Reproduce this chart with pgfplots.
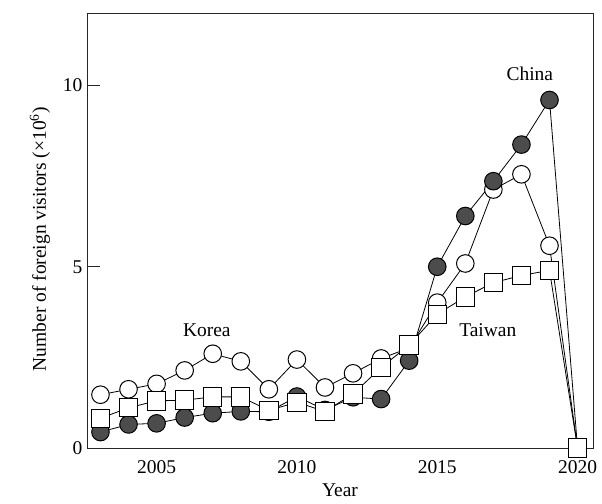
\documentclass[border=0pt]{standalone}
\usepackage{fontspec}
\setmainfont{Liberation Serif}
\usepackage{pgfplots}
\pgfplotsset{compat=1.18}
\usetikzlibrary{calc}
\begin{document}
\begin{tikzpicture}
\begin{axis}[
  scale only axis,
  width=379.5pt, height=326.25pt,
  xmin=2002.52, xmax=2020.55,
  ymin=0, ymax=12,
  axis line style={black!85, line width=0.7pt},
  font=\fontsize{14.6}{17}\selectfont,
  /pgf/number format/assume math mode=true,
  xtick={2005,2010,2015,2020},
  xticklabels={2005,2010,2015,2020},
  xticklabel style={yshift=-6pt},
  xtick style={draw=none},
  minor xtick={2003,2003.5,...,2020},
  minor tick length=3.75pt,
  major tick length=10pt,
  tick align=inside,
  xtick pos=bottom, ytick pos=left,
  ytick={0,5,10},
  yticklabels={0,5,10},
  tick style={black!85, line width=0.7pt},
  xlabel={Year},
  ylabel={Number of foreign visitors (×10\textsuperscript{6})},
  ylabel style={at={(axis description cs:-0.093,0.48)}, anchor=center},
  xlabel style={at={(axis description cs:0.5,-0.097)}, anchor=center},
  every axis plot/.append style={black, line width=0.6pt},
  clip=false,
]
% Korea
\addplot[mark=*, mark size=6.6pt, mark options={fill=white, draw=black, line width=0.75pt}] coordinates {
(2003,1.47) (2004,1.62) (2005,1.77) (2006,2.14) (2007,2.60) (2008,2.39) (2009,1.62) (2010,2.44) (2011,1.67) (2012,2.06) (2013,2.47) (2014,2.76) (2015,4.01) (2016,5.09) (2017,7.13) (2018,7.55) (2019,5.58) (2020,0)};
% China
\addplot[mark=*, mark size=6.6pt, mark options={fill=black!70, draw=black, line width=0.75pt}] coordinates {
(2003,0.44) (2004,0.65) (2005,0.68) (2006,0.84) (2007,0.96) (2008,1.01) (2009,1.00) (2010,1.42) (2011,1.05) (2012,1.40) (2013,1.35) (2014,2.41) (2015,5.00) (2016,6.40) (2017,7.36) (2018,8.37) (2019,9.60) (2020,0)};
% Taiwan
\addplot[mark=square*, mark size=6.9pt, mark options={fill=white, draw=black, line width=0.75pt}] coordinates {
(2003,0.82) (2004,1.11) (2005,1.30) (2006,1.32) (2007,1.41) (2008,1.41) (2009,1.04) (2010,1.26) (2011,1.01) (2012,1.49) (2013,2.22) (2014,2.84) (2015,3.69) (2016,4.17) (2017,4.56) (2018,4.76) (2019,4.90) (2020,0)};
\node[font=\fontsize{14.6}{17}\selectfont] at (axis cs:2018.3,10.32) {China};
\node[font=\fontsize{14.6}{17}\selectfont] at (axis cs:2006.79,3.25) {Korea};
\node[font=\fontsize{14.6}{17}\selectfont] at (axis cs:2016.8,3.25) {Taiwan};
\end{axis}
\pgfresetboundingbox
\path ($(current axis.south west)+(-65.25pt,-41.25pt)$) rectangle ($(current axis.north east)+(6.75pt,9.75pt)$);
\end{tikzpicture}
\end{document}
